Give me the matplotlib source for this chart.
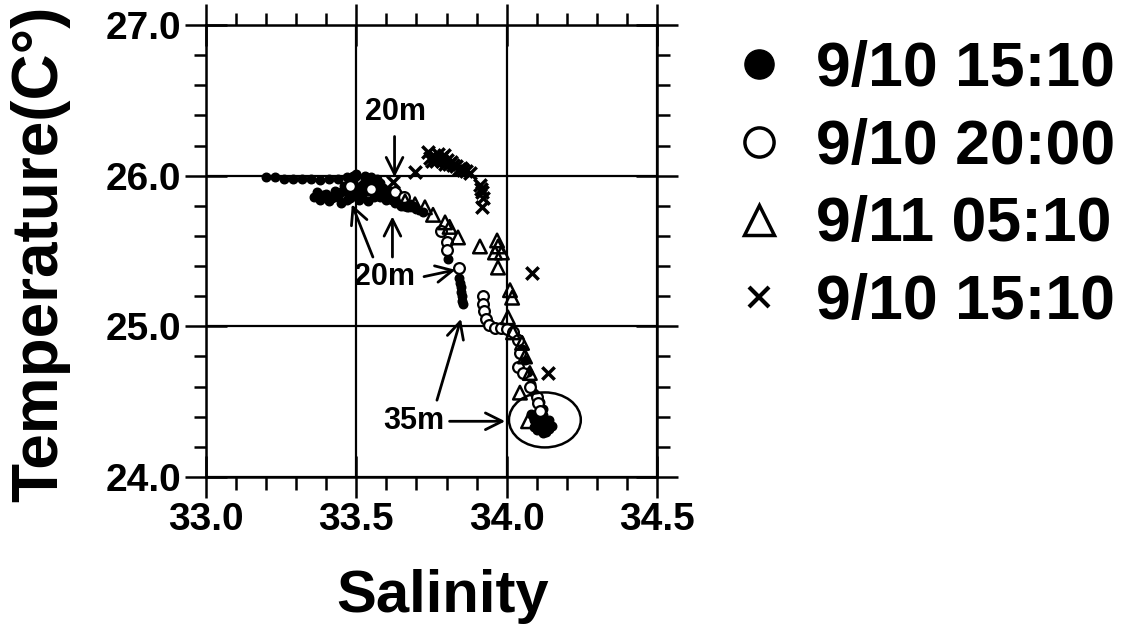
import matplotlib

matplotlib.use("Agg")
import matplotlib.pyplot as plt
from matplotlib.lines import Line2D
from matplotlib.patches import Ellipse
from matplotlib.ticker import FormatStrFormatter, MultipleLocator

plt.rcParams["font.family"] = ["Liberation Sans", "DejaVu Sans"]
plt.rcParams["font.weight"] = "bold"

# 9/10 15:10 (filled dots)
filled_sal = [33.20, 33.23, 33.26, 33.29, 33.32, 33.35, 33.38, 33.41, 33.44, 33.47, 33.50, 33.53,
              33.36, 33.38, 33.40, 33.41, 33.43, 33.44, 33.45, 33.46, 33.47, 33.48, 33.49, 33.50,
              33.51, 33.52, 33.53, 33.54, 33.55, 33.56, 33.57, 33.58, 33.59, 33.60, 33.61, 33.62,
              33.63, 33.64, 33.65, 33.66, 33.67, 33.68, 33.70, 33.72,
              33.37, 33.39, 33.42, 33.45, 33.48, 33.50, 33.52, 33.54, 33.56, 33.58, 33.60, 33.62,
              33.64, 33.66, 33.69, 33.47, 33.51, 33.55, 33.59, 33.43, 33.49, 33.53, 33.57,
              33.805,
              33.843, 33.845, 33.847, 33.849, 33.851, 33.853, 33.855,
              34.03, 34.05, 34.06, 34.07, 34.08, 34.09,
              34.08, 34.09, 34.10, 34.11, 34.12, 34.13, 34.10, 34.12, 34.14, 34.11, 34.13, 34.09,
              34.15, 34.12, 34.11, 34.10, 34.14, 34.12]
filled_temp = [25.99, 25.99, 25.98, 25.98, 25.98, 25.98, 25.97, 25.98, 25.98, 25.99, 26.00, 26.00,
               25.86, 25.84, 25.88, 25.83, 25.90, 25.86, 25.82, 25.93, 25.89, 25.85, 25.96, 26.01,
               25.92, 25.87, 25.97, 25.83, 25.94, 25.89, 25.98, 25.86, 25.92, 25.84, 25.90, 25.87,
               25.82, 25.85, 25.80, 25.83, 25.79, 25.81, 25.78, 25.76,
               25.89, 25.87, 25.85, 25.89, 25.92, 25.88, 25.94, 25.90, 25.86, 25.95, 25.88, 25.84,
               25.88, 25.80, 25.80, 25.84, 25.84, 25.99, 25.89, 25.87, 26.00, 25.91, 25.93,
               25.45,
               25.32, 25.29, 25.26, 25.23, 25.20, 25.17, 25.15,
               24.93, 24.85, 24.78, 24.70, 24.62, 24.56,
               24.42, 24.38, 24.35, 24.40, 24.33, 24.37, 24.31, 24.29, 24.32, 24.36, 24.30, 24.33,
               24.34, 24.45, 24.50, 24.39, 24.38, 24.41]

# 9/10 20:00 (open circles)
open_sal = [33.48, 33.55, 33.63, 33.66,
            33.78, 33.80, 33.80, 33.84,
            33.92, 33.92, 33.925, 33.93,
            33.94, 33.96, 33.98, 34.00, 34.02,
            34.037, 34.044, 34.037, 34.054, 34.078, 34.10, 34.105, 34.11]
open_temp = [25.93, 25.91, 25.89, 25.86,
             25.63, 25.56, 25.51, 25.39,
             25.20, 25.15, 25.10, 25.05,
             25.01, 24.99, 24.99, 24.98, 24.96,
             24.91, 24.82, 24.73, 24.69, 24.60, 24.53, 24.49, 24.44]

# 9/11 05:10 (open triangles)
tri_sal = [33.662, 33.695, 33.728, 33.755, 33.795, 33.81, 33.838,
           33.911, 33.968, 33.971, 33.961, 33.984, 33.971,
           34.011, 34.018, 34.004,
           34.021, 34.051, 34.061, 34.077, 34.044, 34.071]
tri_temp = [25.83, 25.81, 25.79, 25.74, 25.69, 25.66, 25.59,
            25.53, 25.57, 25.53, 25.49, 25.49, 25.39,
            25.24, 25.19, 25.06,
            24.96, 24.89, 24.80, 24.69, 24.56, 24.37]

# second 9/10 15:10 series (crosses)
cross_sal = [33.738, 33.758, 33.772, 33.781, 33.791, 33.801, 33.815, 33.831, 33.848, 33.865,
             33.878, 33.752, 33.795, 33.745, 33.765, 33.785, 33.808, 33.822, 33.840, 33.855,
             33.695, 33.622,
             33.911, 33.915, 33.918, 33.921, 33.918,
             34.084, 34.137]
cross_temp = [26.157, 26.131, 26.144, 26.117, 26.137, 26.104, 26.091, 26.064, 26.051, 26.031,
              26.018, 26.098, 26.078, 26.120, 26.100, 26.095, 26.080, 26.070, 26.045, 26.040,
              26.025, 25.958,
              25.938, 25.910, 25.892, 25.852, 25.792,
              25.354, 24.691]

labels = ["9/10 15:10", "9/10 20:00", "9/11 05:10", "9/10 15:10"]

fig = plt.figure(figsize=(11.21, 6.41), dpi=100)
ax = fig.add_axes([0.1838, 0.2558, 0.4023, 0.7052])

ax.scatter(filled_sal, filled_temp, s=38, marker="o", color="black", zorder=3)
ax.scatter(open_sal, open_temp, s=60, marker="o", facecolors="white", edgecolors="black",
           linewidths=1.6, zorder=4)
ax.scatter(tri_sal, tri_temp, s=95, marker="^", facecolors="none", edgecolors="black",
           linewidths=1.8, zorder=4)
ax.scatter(cross_sal, cross_temp, s=80, marker="x", color="black", linewidths=2.5, zorder=4)

ax.set_xlim(33.0, 34.5)
ax.set_ylim(24.0, 27.0)
ax.xaxis.set_major_locator(MultipleLocator(0.5))
ax.xaxis.set_minor_locator(MultipleLocator(0.1))
ax.yaxis.set_major_locator(MultipleLocator(1.0))
ax.yaxis.set_minor_locator(MultipleLocator(0.2))
ax.xaxis.set_major_formatter(FormatStrFormatter("%.1f"))
ax.yaxis.set_major_formatter(FormatStrFormatter("%.1f"))
ax.grid(True, which="major", color="black", lw=1.6)
ax.set_axisbelow(True)
for s in ax.spines.values():
    s.set_linewidth(1.8)
ax.tick_params(which="major", direction="inout", length=30, width=1.8, top=True, right=True,
               labelsize=28, pad=3)
ax.tick_params(which="minor", direction="out", length=9, width=1.8, top=True, right=True)
for lab in ax.get_xticklabels() + ax.get_yticklabels():
    lab.set_fontweight("bold")

# annotations
arrow = dict(arrowstyle="->", lw=2, color="black", mutation_scale=30, shrinkA=0, shrinkB=0)
ax.annotate("", xy=(33.627, 25.99), xytext=(33.627, 26.26), arrowprops=arrow)
ax.text(33.63, 26.42, "20m", fontsize=22, ha="center", va="center")
ax.text(33.595, 25.33, "20m", fontsize=22, ha="center", va="center")
ax.annotate("", xy=(33.485, 25.81), xytext=(33.555, 25.46), arrowprops=arrow)
ax.annotate("", xy=(33.62, 25.73), xytext=(33.62, 25.46), arrowprops=arrow)
ax.annotate("", xy=(33.83, 25.375), xytext=(33.725, 25.33), arrowprops=arrow)
ax.text(33.69, 24.37, "35m", fontsize=22, ha="center", va="center")
ax.annotate("", xy=(33.995, 24.37), xytext=(33.81, 24.37), arrowprops=arrow)
ax.annotate("", xy=(33.848, 25.05), xytext=(33.768, 24.51), arrowprops=arrow)
ax.add_patch(Ellipse((34.127, 24.379), 0.239, 0.365, facecolor="none", edgecolor="black",
                     lw=1.8, zorder=5))

fig.text(40 / 1121, 1 - 254 / 641, "Temperature(C°)", rotation=90, fontsize=46,
         ha="center", va="center")
fig.text(443 / 1121, 1 - 612 / 641, "Salinity", fontsize=43, ha="center", va="baseline")

handles = [
    Line2D([], [], marker="o", ls="none", color="black", markersize=21),
    Line2D([], [], marker="o", ls="none", markerfacecolor="white", markeredgecolor="black",
           markeredgewidth=2.5, markersize=21),
    Line2D([], [], marker="^", ls="none", markerfacecolor="none", markeredgecolor="black",
           markeredgewidth=2.5, markersize=21),
    Line2D([], [], marker="x", ls="none", color="black", markeredgewidth=3, markersize=14),
]
fig.legend(handles, labels, loc="upper left", bbox_to_anchor=(728 / 1121, 1 - 40 / 641),
           frameon=False, handlelength=1.0, handletextpad=0.4,
           labelspacing=0.3, borderpad=0, borderaxespad=0, prop={"weight": "bold", "size": 45})

fig.savefig("out.png", dpi=100)
